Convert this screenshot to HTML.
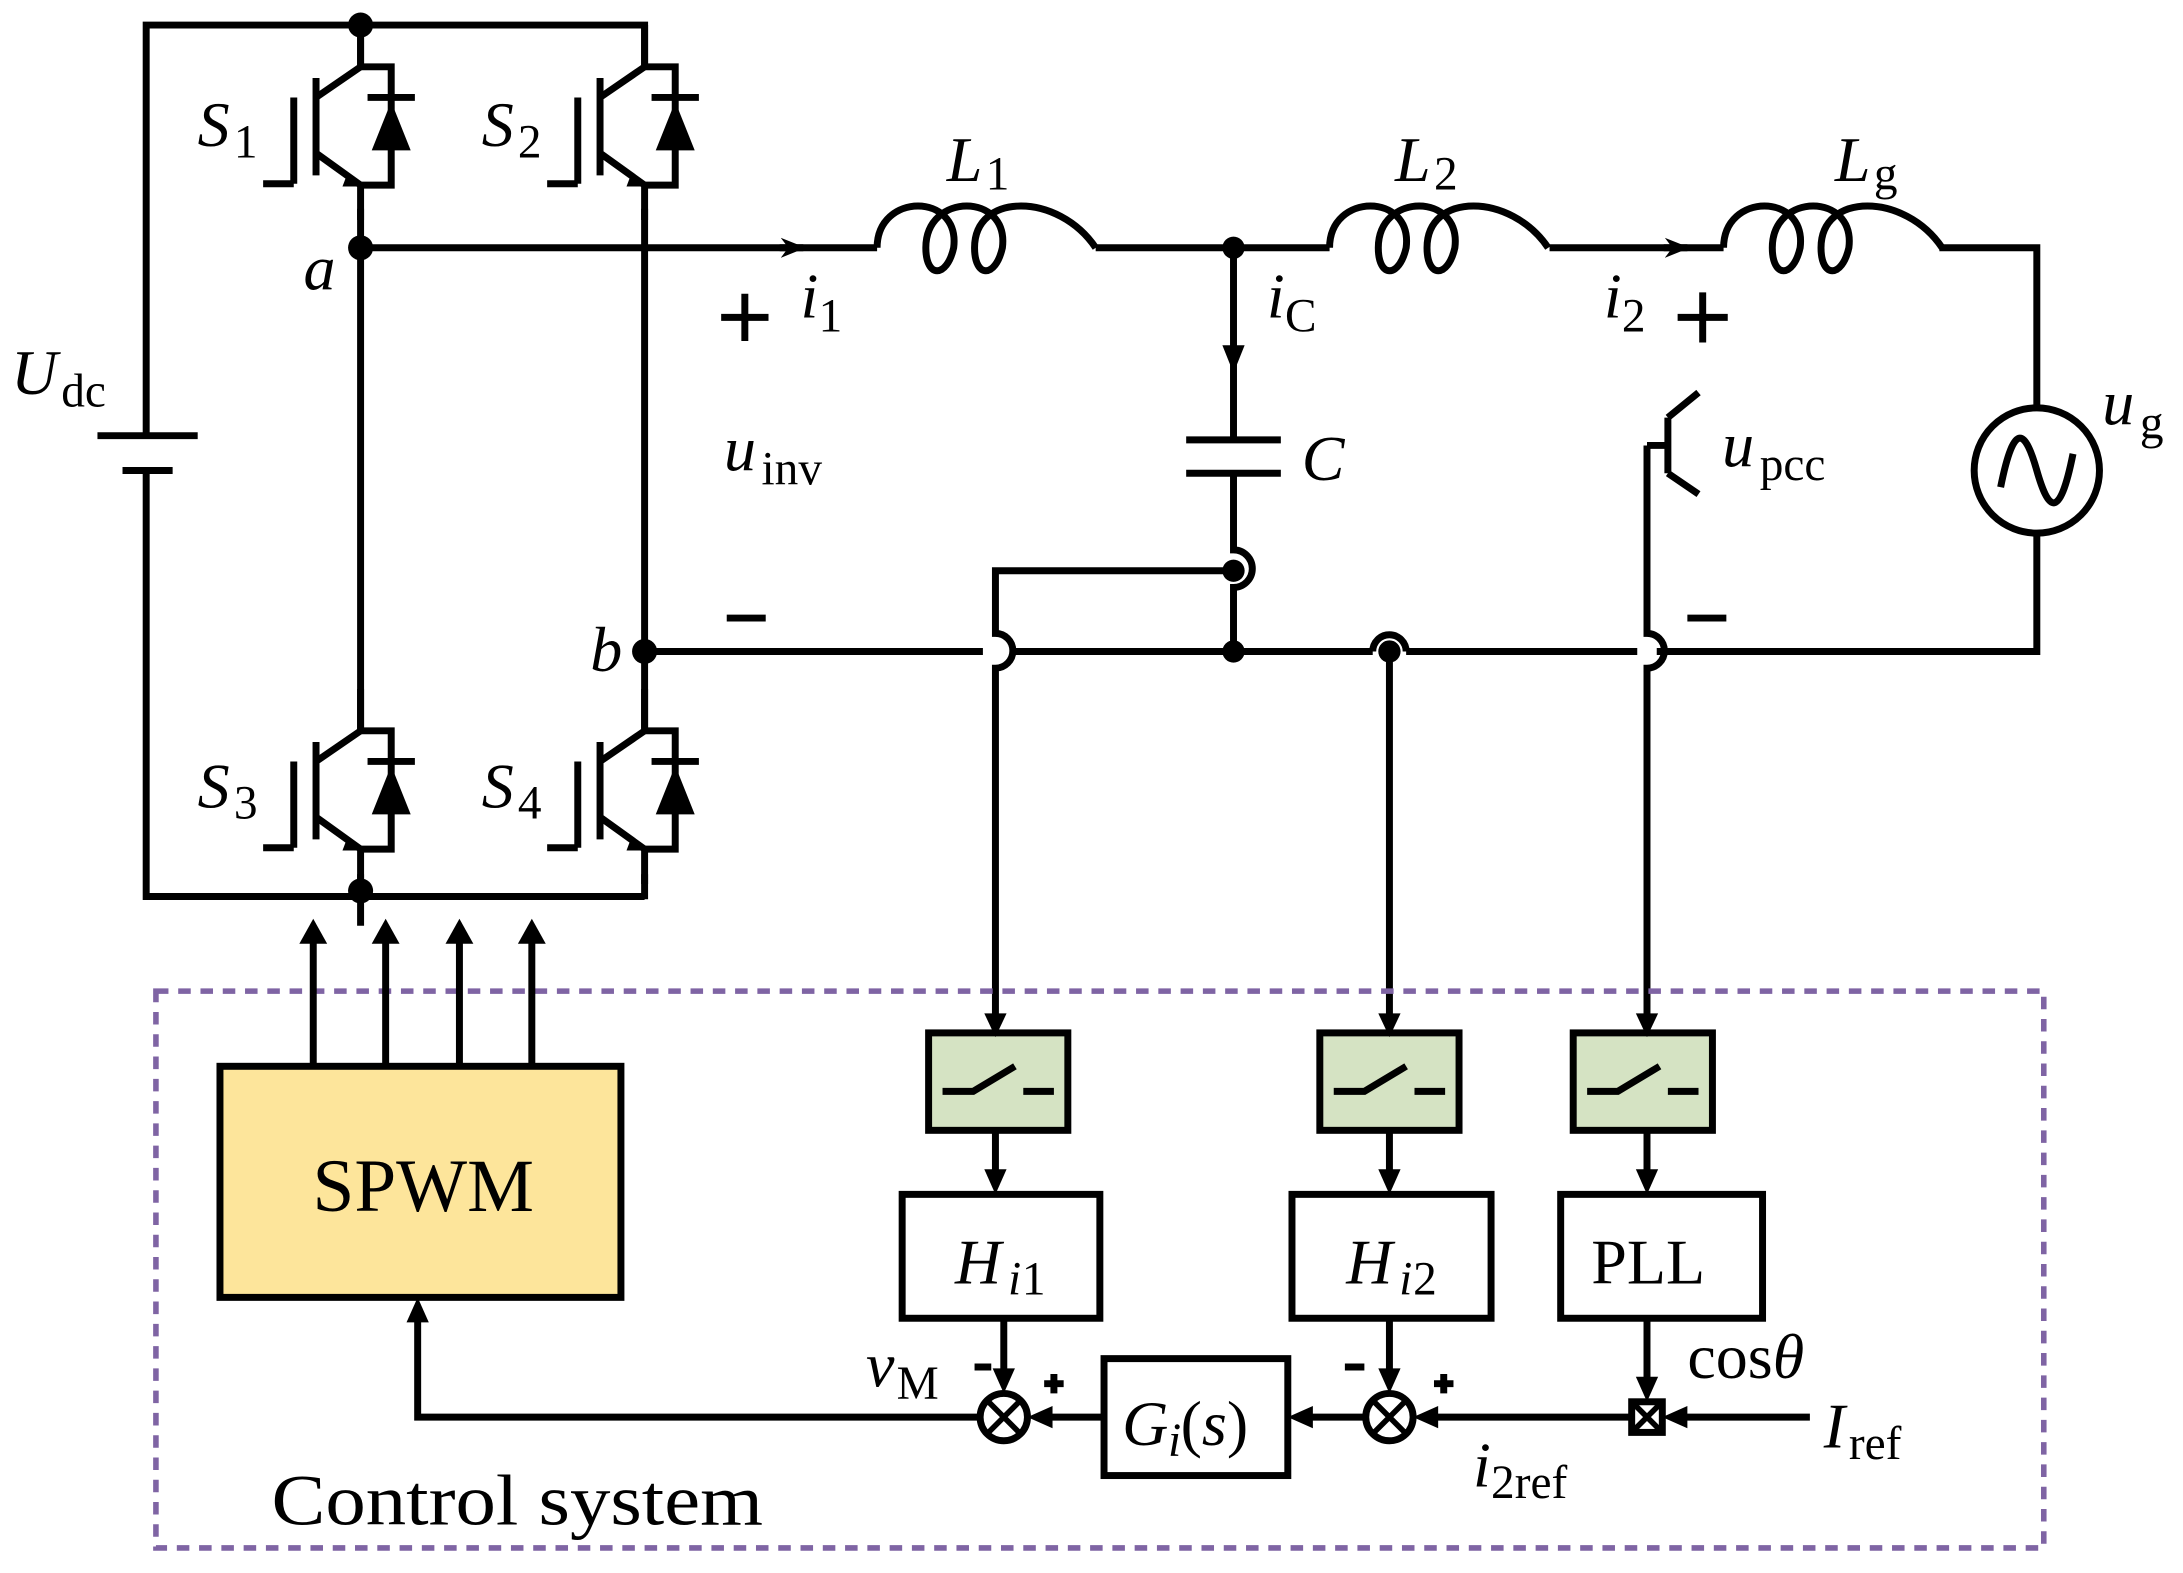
<!DOCTYPE html>
<html><head><meta charset="utf-8"><style>
html,body{margin:0;padding:0;background:#fff}
svg{display:block}
text{font-family:"Liberation Serif",serif;fill:#000}
.i{font-style:italic}
</style></head><body>
<svg width="2183" height="1573" viewBox="0 0 1568 1130" preserveAspectRatio="none" xmlns="http://www.w3.org/2000/svg">
<defs>
<marker id="a2" viewBox="0 0 10 10" refX="9" refY="5" markerWidth="18" markerHeight="18" orient="auto" markerUnits="userSpaceOnUse"><path d="M0,1 L10,5 L0,9 L3,5 z" fill="#000"/></marker>
<g id="sw">
<path d="M0,0 V30 L-32,52 M-32,38 V108 M-48,52 V114 M-70,114 H-48 M-32,92 L0,115 V140" fill="none" stroke="#000" stroke-width="5"/>
<path d="M-10,108 L0,116 L-13,116 z" fill="#000"/>
<path d="M0,30 H22 V115 H0" fill="none" stroke="#000" stroke-width="5"/>
<path d="M5,52 H39" stroke="#000" stroke-width="5"/>
<path d="M8,90 L36,90 L22,55 z" fill="#000"/>
</g>
<g id="ind"><path d="M0,0 C0,-40 60,-40 55,0 C50,22 35,22 35,0 C35,-40 95,-40 90,0 C85,22 70,22 70,0 C70,-40 130,-40 157,0" fill="none" stroke="#000" stroke-width="5"/></g>
<g id="smp"><rect x="0" y="0" width="100" height="70" fill="#d5e3c3" stroke="#000" stroke-width="5"/><path d="M10,42 H32 L62,24 M68,42 H90" fill="none" stroke="#000" stroke-width="5"/></g>
</defs>
<g stroke="#000" stroke-width="5" fill="none">
<path d="M105,313 V18 H463 V47"/>
<path d="M105,338 V644 H463"/>
<path d="M70,313 H142"/><path d="M88,338 H124"/>
<path d="M259,18 V47"/>
<path d="M259,150 V525"/>
<path d="M259,628 V665"/>
<path d="M463,150 V525"/>
<path d="M463,628 V646"/>
<path d="M259,178 H630"/>
<path d="M787,178 H955"/>
<path d="M1113,178 H1238"/>
<path d="M1393,178 H1463 V293"/>
<path d="M1463,383 V468 H1190"/>
<path d="M1176,468 H1010"/>
<path d="M986,468 H727"/>
<path d="M706,468 H463"/>
<path d="M886,178 V316"/><path d="M852,316 H920"/><path d="M852,340 H920"/>
<path d="M886,340 V395 A13,13 0 0 1 886,422 V468"/>
<path d="M886,410 H715 V455 A12,12 0 0 1 715,480 V740"/>
<path d="M986,468 A12,12 0 0 1 1010,468"/>
<path d="M998,468 V740"/>
<path d="M1183,320 H1198 M1198,300 V340 M1198,300 L1220,282 M1198,340 L1220,355"/>
<path d="M1183,320 V455 A12,12 0 0 1 1183,480 V740"/>
<circle cx="1463" cy="338" r="45"/>
<path d="M1437,350 C1447,300 1455,310 1463,338 C1471,366 1479,376 1489,326"/>
</g>
<path d="M560,178 L577,178" stroke="#000" stroke-width="5" marker-end="url(#a2)"/>
<path d="M1195,178 L1212,178" stroke="#000" stroke-width="5" marker-end="url(#a2)"/>
<path d="M878,248 L886,268 L894,248 z" fill="#000"/>
<use href="#ind" x="630" y="178"/>
<use href="#ind" x="955" y="178"/>
<use href="#ind" x="1238" y="178"/>
<use href="#sw" x="259" y="18"/>
<use href="#sw" x="463" y="18"/>
<use href="#sw" x="259" y="495"/>
<use href="#sw" x="463" y="495"/>
<g fill="#000">
<circle cx="259" cy="18" r="9"/><circle cx="259" cy="178" r="9"/><circle cx="463" cy="468" r="9"/><circle cx="259" cy="640" r="9"/>
<circle cx="886" cy="178" r="8"/><circle cx="886" cy="410" r="8"/><circle cx="886" cy="468" r="8"/><circle cx="998" cy="468" r="8"/>
</g>
<rect x="112" y="712" width="1356" height="400" fill="none" stroke="#7f64a4" stroke-width="4" stroke-dasharray="9,7"/>
<rect x="158" y="766" width="288" height="166" fill="#fde59b" stroke="#000" stroke-width="5"/>
<g stroke="#000" stroke-width="5">
<line x1="225" y1="766" x2="225" y2="665"/><line x1="277" y1="766" x2="277" y2="665"/><line x1="330" y1="766" x2="330" y2="665"/><line x1="382" y1="766" x2="382" y2="665"/>
</g>
<g fill="#000"><path d="M215,678 L225,660 L235,678 z"/><path d="M267,678 L277,660 L287,678 z"/><path d="M320,678 L330,660 L340,678 z"/><path d="M372,678 L382,660 L392,678 z"/></g>
<use href="#smp" x="667" y="742"/><use href="#smp" x="948" y="742"/><use href="#smp" x="1130" y="742"/>
<g fill="#fff" stroke="#000" stroke-width="5">
<rect x="648" y="858" width="142" height="89"/><rect x="928" y="858" width="143" height="89"/><rect x="1121" y="858" width="145" height="89"/>
<rect x="793" y="976" width="132" height="84"/>
<circle cx="721" cy="1018" r="17"/><circle cx="998" cy="1018" r="17"/>
<rect x="1172" y="1007" width="22" height="22"/>
</g>
<g stroke="#000" stroke-width="4">
<path d="M709,1006 L733,1030 M733,1006 L709,1030 M986,1006 L1010,1030 M1010,1006 L986,1030 M1172,1007 L1194,1029 M1194,1007 L1172,1029"/>
</g>
<g stroke="#000" stroke-width="5" fill="none">
<path d="M715,812 V845 M998,812 V845 M1183,812 V845"/>
<path d="M721,947 V990 M998,947 V990 M1183,947 V995"/>
<path d="M1300,1018 H1205 M1172,1018 H1025 M981,1018 H940 M793,1018 H748 M704,1018 H300 V945"/>
</g>
<g fill="#000">
<path d="M707,728 L715,745 L723,728 z"/><path d="M990,728 L998,745 L1006,728 z"/><path d="M1175,728 L1183,745 L1191,728 z"/>
<path d="M707,840 L715,858 L723,840 z"/><path d="M990,840 L998,858 L1006,840 z"/><path d="M1175,840 L1183,858 L1191,840 z"/>
<path d="M713,983 L721,1001 L729,983 z"/><path d="M990,983 L998,1001 L1006,983 z"/><path d="M1175,989 L1183,1007 L1191,989 z"/>
<path d="M1212,1010 L1194,1018 L1212,1026 z"/><path d="M1033,1010 L1015,1018 L1033,1026 z"/><path d="M943,1010 L925,1018 L943,1026 z"/><path d="M756,1010 L738,1018 L756,1026 z"/>
<path d="M292,950 L300,932 L308,950 z"/>
</g>
<g font-size="46">
<text x="142" y="105" class="i">S</text><text x="168" y="113" font-size="34">1</text>
<text x="346" y="105" class="i">S</text><text x="372" y="113" font-size="34">2</text>
<text x="142" y="580" class="i">S</text><text x="168" y="588" font-size="34">3</text>
<text x="346" y="580" class="i">S</text><text x="372" y="588" font-size="34">4</text>
<text x="218" y="208" class="i">a</text>
<text x="424" y="482" class="i">b</text>
<text x="8" y="283" class="i">U</text><text x="44" y="292" font-size="34">dc</text>
<text x="680" y="130" class="i">L</text><text x="708" y="136" font-size="34">1</text>
<text x="1002" y="130" class="i">L</text><text x="1030" y="136" font-size="34">2</text>
<text x="1318" y="130" class="i">L</text><text x="1346" y="136" font-size="34">g</text>
<text x="575" y="228" class="i">i</text><text x="588" y="238" font-size="34">1</text>
<text x="910" y="228" class="i">i</text><text x="923" y="238" font-size="34">C</text>
<text x="1152" y="228" class="i">i</text><text x="1165" y="238" font-size="34">2</text>
<text x="935" y="345" class="i">C</text>
<text x="520" y="338" class="i">u</text><text x="547" y="348" font-size="34">inv</text>
<text x="1237" y="335" class="i">u</text><text x="1264" y="345" font-size="34">pcc</text>
<text x="1510" y="305" class="i">u</text><text x="1537" y="315" font-size="34">g</text>
<text x="304" y="870" font-size="54" text-anchor="middle">SPWM</text>
<text x="686" y="922" class="i">H</text><text x="724" y="930" font-size="34" class="i">i</text><text x="734" y="930" font-size="34">1</text>
<text x="967" y="922" class="i">H</text><text x="1005" y="930" font-size="34" class="i">i</text><text x="1015" y="930" font-size="34">2</text>
<text x="1143" y="922">PLL</text>
<text x="806" y="1038" class="i">G</text><text x="839" y="1046" font-size="34" class="i">i</text><text x="848" y="1038">(<tspan class="i">s</tspan>)</text>
<text x="622" y="996" class="i">v</text><text x="644" y="1005" font-size="34">M</text>
<text x="1212" y="990">cos<tspan class="i">θ</tspan></text>
<text x="1310" y="1040" class="i">I</text><text x="1328" y="1048" font-size="34">ref</text>
<text x="1058" y="1068" class="i">i</text><text x="1071" y="1076" font-size="34">2ref</text>
<text x="195" y="1095" font-size="52" textLength="353" lengthAdjust="spacingAndGlyphs">Control system</text>
</g>
<g stroke="#000" stroke-width="5">
<path d="M518,228 H552 M535,211 V245"/>
<path d="M1205,228 H1241 M1223,210 V246"/>
<path d="M522,444 H550"/><path d="M1212,444 H1240"/>
<path d="M700,982 H712 M966,982 H980"/>
<path d="M750,994 H764 M757,987 V1001 M1030,994 H1044 M1037,987 V1001"/>
</g>
</svg>
</body></html>
